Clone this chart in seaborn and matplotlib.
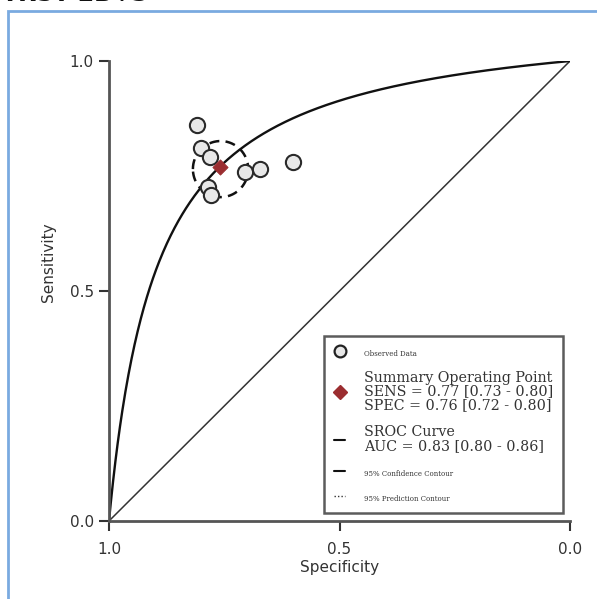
import numpy as np
import pandas as pd
import matplotlib
matplotlib.use("Agg")
import matplotlib.pyplot as plt
from matplotlib.lines import Line2D
from matplotlib.patches import Rectangle
import seaborn as sns

# ---- data ----
obs_spec = [0.809, 0.800, 0.781, 0.785, 0.779, 0.705, 0.672, 0.601]
obs_sens = [0.861, 0.811, 0.791, 0.726, 0.709, 0.759, 0.765, 0.780]
summary_spec = 0.76
summary_sens = 0.77
# SROC curve: logit(sens) = D + logit(1 - spec)
sroc_D = 2.36
# 95% confidence contour (centre, half-widths in spec / sens)
conf_center = (0.758, 0.765)
conf_halfwidth = (0.060, 0.061)
x_ticks = [1.0, 0.5, 0.0]
y_ticks = [0.0, 0.5, 1.0]
tick_labels = ["1.0", "0.5", "0.0"]
ytick_labels = ["0.0", "0.5", "1.0"]

sns.set_theme(style="white")
plt.rcParams["font.family"] = ["DejaVu Sans"]

fig = plt.figure(figsize=(5.97, 5.99), dpi=100)
ax = fig.add_axes([109/597, 1-521/599, 461/597, 460/599])

# chance diagonal
diag = pd.DataFrame({"spec": [1.0, 0.0], "sens": [0.0, 1.0]})
sns.lineplot(data=diag, x="spec", y="sens", ax=ax, color="#333333", lw=1.1,
             sort=False, estimator=None)

# SROC curve
fpr = np.linspace(0.0005, 0.9995, 600)
lg = np.log(fpr/(1-fpr)) + sroc_D
sens_curve = 1/(1+np.exp(-lg))
sroc = pd.DataFrame({"spec": np.r_[1.0, 1-fpr, 0.0], "sens": np.r_[0.0, sens_curve, 1.0]})
sns.lineplot(data=sroc, x="spec", y="sens", ax=ax, color="#111111", lw=1.7,
             sort=False, estimator=None)

# confidence contour
t = np.linspace(0, 2*np.pi, 200)
cont = pd.DataFrame({"spec": conf_center[0] + conf_halfwidth[0]*np.cos(t),
                     "sens": conf_center[1] + conf_halfwidth[1]*np.sin(t)})
sns.lineplot(data=cont, x="spec", y="sens", ax=ax, color="#111111", lw=1.8,
             sort=False, estimator=None, linestyle=(0, (4, 2.5)))

# observed data
obs = pd.DataFrame({"spec": obs_spec, "sens": obs_sens})
sns.scatterplot(data=obs, x="spec", y="sens", ax=ax, s=120, color="#e8e8e8",
                edgecolor="#2a2a2a", linewidth=1.5, zorder=5)

# summary point
summ = pd.DataFrame({"spec": [summary_spec], "sens": [summary_sens]})
sns.scatterplot(data=summ, x="spec", y="sens", ax=ax, marker="D", s=60,
                color="#9b2d30", edgecolor="#9b2d30", zorder=6)

ax.set_xlim(1.0, 0.0)
ax.set_ylim(0.0, 1.0)
ax.set_xticks(x_ticks)
ax.set_xticklabels(tick_labels)
ax.set_yticks(y_ticks)
ax.set_yticklabels(ytick_labels)
for s in ["top", "right"]:
    ax.spines[s].set_visible(False)
for s in ["left", "bottom"]:
    ax.spines[s].set_color("#555555")
    ax.spines[s].set_linewidth(2.0)
ax.tick_params(axis="both", direction="out", length=7, width=1.5, color="#333333",
               labelsize=11, labelcolor="#333333")
ax.tick_params(axis="x", bottom=True, pad=8)
ax.tick_params(axis="y", left=True, pad=4)
ax.set_xlabel("Specificity", fontsize=11, color="#333333")
ax.set_ylabel("Sensitivity", fontsize=11, color="#333333")
ax.xaxis.set_label_coords(0.5, -0.085)
ax.yaxis.set_label_coords(-0.115, 0.563)

# legend
handles = [
    Line2D([], [], marker="o", linestyle="none", markersize=8.5, markerfacecolor="#e8e8e8",
           markeredgecolor="#222222", markeredgewidth=1.6),
    Line2D([], [], marker="D", linestyle="none", markersize=7.5, color="#9b2d30"),
    Line2D([], [], color="#111111", lw=1.5),
    Line2D([], [], color="#111111", lw=1.5),
    Line2D([], [], color="#333333", lw=1.0, linestyle=(0, (1, 1.5))),
]
labels = [
    "Observed Data",
    "Summary Operating Point\nSENS = 0.77 [0.73 - 0.80]\nSPEC = 0.76 [0.72 - 0.80]",
    "SROC Curve\nAUC = 0.83 [0.80 - 0.86]",
    "95% Confidence Contour",
    "95% Prediction Contour",
]
leg = ax.legend(handles, labels, loc="lower right", bbox_to_anchor=(0.985, 0.017),
                borderaxespad=0, frameon=True, fancybox=False, handlelength=0.8,
                handletextpad=1.3, labelspacing=0.9, borderpad=0.7,
                prop={"family": "DejaVu Serif", "size": 10.3})
leg.get_frame().set_edgecolor("#333333")
leg.get_frame().set_linewidth(1.8)
sizes = [5.0, 10.3, 10.3, 5.0, 5.0]
for txt, sz in zip(leg.get_texts(), sizes):
    txt.set_fontsize(sz)
    txt.set_color("#333333")
    txt.set_linespacing(1.0)

# outer blue border and clipped title
fig.patches.append(Rectangle((8/597, -0.1), 1.2, 1-11/599+0.1, transform=fig.transFigure,
                             fill=False, edgecolor="#7aaae0", linewidth=2.0))
fig.text(2/597, 1-1.0/599, "TRST 2B+3", fontsize=17, fontweight="bold",
         family="DejaVu Sans", va="baseline", ha="left", color="#111111")

fig.savefig("out.png", dpi=100)
